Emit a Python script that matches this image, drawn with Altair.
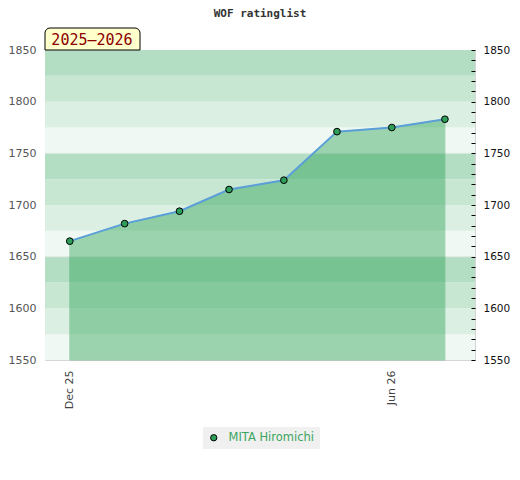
import altair as alt
import pandas as pd

# ---- data ----
dates = ["2025-12-01", "2026-01-01", "2026-02-01", "2026-03-01",
         "2026-04-01", "2026-05-01", "2026-06-01", "2026-07-01"]
ratings = [1665, 1682, 1694, 1715, 1724, 1771, 1775, 1783]
player = "MITA Hiromichi"
season = "2025\u20132026"

band_lo = [1550, 1575, 1600, 1625, 1650, 1675, 1700, 1725, 1750, 1775, 1800, 1825]
band_hi = [1575, 1600, 1625, 1650, 1675, 1700, 1725, 1750, 1775, 1800, 1825, 1850]
band_shade = [3, 2, 1, 0, 3, 2, 1, 0, 3, 2, 1, 0]
grid_values = [1650, 1750]
y_labels = [1550, 1600, 1650, 1700, 1750, 1800, 1850]
y_minor = list(range(1550, 1851, 10))

df = pd.DataFrame({"date": dates, "rating": ratings, "player": player})
bands = pd.DataFrame({"lo": band_lo, "hi": band_hi, "shade": band_shade})
grid = pd.DataFrame({"g": grid_values})
season_df = pd.DataFrame({"season": [season]})

band_colors = ["#b3dec4", "#c8e7d3", "#dcefe3", "#eff8f2"]

xscale = alt.Scale(type="utc",
                   domain=[alt.DateTime(year=2025, month=11, date=17, utc=True),
                           alt.DateTime(year=2026, month=7, date=18, utc=True)])
yscale = alt.Scale(domain=[1550, 1850], zero=False, nice=False)

left_axis = alt.Axis(values=y_labels, format="d", ticks=False, domain=False, grid=False,
                     labelColor="#555555", labelFontSize=11, labelFont="DejaVu Sans",
                     labelPadding=9, title=None, orient="left")
right_axis = alt.Axis(values=y_minor, format="d",
                      labelExpr="datum.value % 50 == 0 ? datum.label : ''",
                      tickSize=4, tickColor="#000000", tickWidth=1, domain=False, grid=False,
                      offset=-4, labelPadding=8, labelColor="#111111", labelFontSize=10.5,
                      labelFont="DejaVu Sans", labelOverlap=False, title=None, orient="right",
                      zindex=1)
x_axis = alt.Axis(values=[alt.DateTime(year=2025, month=12, date=1, utc=True),
                          alt.DateTime(year=2026, month=6, date=1, utc=True)],
                  format="%b %y", labelAngle=-90, ticks=False, domain=False, grid=False,
                  labelColor="#444444", labelFontSize=11, labelFont="DejaVu Sans",
                  labelPadding=10, labelFlush=False, title=None)

band_layer = alt.Chart(bands).mark_rect().encode(
    y=alt.Y("lo:Q", scale=yscale, axis=left_axis),
    y2="hi:Q",
    color=alt.Color("shade:O", scale=alt.Scale(domain=[0, 1, 2, 3], range=band_colors), legend=None),
)

grid_layer = alt.Chart(grid).mark_rule(color="#dde8e0", strokeWidth=1).encode(
    y=alt.Y("g:Q", scale=yscale, axis=None)
)

area_layer = alt.Chart(df).mark_area(color="#1f9d4a", opacity=0.4, stroke="#2a9d55",
                                     strokeWidth=1, strokeOpacity=1).encode(
    x=alt.X("date:T", scale=xscale, axis=x_axis),
    y=alt.Y("rating:Q", scale=yscale, axis=None),
    y2=alt.datum(1550),
)

line_layer = alt.Chart(df).mark_line(color="#5a9fd8", strokeWidth=2).encode(
    x=alt.X("date:T", scale=xscale, axis=x_axis),
    y=alt.Y("rating:Q", scale=yscale, axis=right_axis),
)

point_layer = alt.Chart(df).mark_point(filled=True, shape="circle", size=45, stroke="#000000",
                                       strokeWidth=1, opacity=1).encode(
    x=alt.X("date:T", scale=xscale, axis=x_axis),
    y=alt.Y("rating:Q", scale=yscale, axis=None),
    fill=alt.Fill("player:N", scale=alt.Scale(range=["#2e9e5a"]),
                  legend=alt.Legend(title=None, orient="none", legendX=158, legendY=377,
                                    fillColor="#f0f0f0", padding=5, labelColor="#3aa55e",
                                    labelFontSize=11.5, labelFont="DejaVu Sans", labelOffset=9,
                                    symbolStrokeColor="#000000", symbolStrokeWidth=1,
                                    symbolSize=40, symbolType="circle")),
)

season_box = alt.Chart(season_df).mark_rect(fill="#ffffcc", stroke="#000000", strokeWidth=1,
                                            cornerRadiusTopLeft=5, cornerRadiusTopRight=5).encode(
    x=alt.value(0), x2=alt.value(95), y=alt.value(-22), y2=alt.value(0)
)
season_text = alt.Chart(season_df).mark_text(font="DejaVu Sans Mono", fontSize=15,
                                             color="#8b0000", align="center",
                                             baseline="middle").encode(
    x=alt.value(47), y=alt.value(-10), text="season:N"
)

chart = alt.layer(
    band_layer, grid_layer, area_layer, line_layer, point_layer, season_box, season_text
).resolve_scale(
    color="independent", fill="independent"
).resolve_axis(
    y="independent"
).properties(
    width=430, height=310,
    title=alt.Title("WOF ratinglist", font="DejaVu Sans Mono", fontSize=11, fontWeight="bold",
                    color="#333333", frame="group", anchor="middle", offset=9),
    autosize=alt.AutoSizeParams(type="none"),
    padding={"left": 37, "top": 42, "right": 36, "bottom": 100},
).configure_view(stroke="#d6d6d6", strokeWidth=1)

chart.save("out.html", embed_options={"renderer": "svg", "actions": False})
